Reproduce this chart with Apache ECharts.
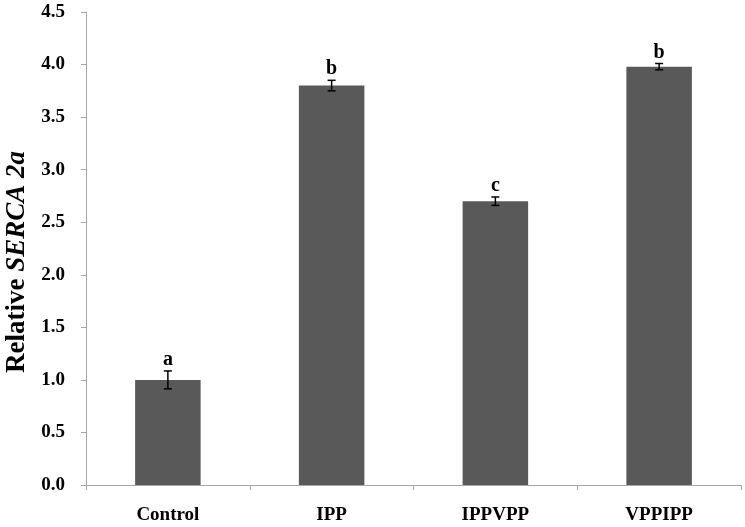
<!DOCTYPE html>
<html><head><meta charset="utf-8">
<script src="https://cdn.jsdelivr.net/npm/echarts@6/dist/echarts.min.js"></script>
<style>html,body{margin:0;padding:0;background:#fff}#c{width:745px;height:527px}</style>
</head><body><div id="c"></div>
<script>
var categories = ['Control', 'IPP', 'IPPVPP', 'VPPIPP'];
var values = [1.0, 3.8, 2.7, 3.98];
var errors = [0.085, 0.05, 0.04, 0.03];
var letters = ['a', 'b', 'c', 'b'];
var yTicks = [0, 0.5, 1.0, 1.5, 2.0, 2.5, 3.0, 3.5, 4.0, 4.5];

var chart = echarts.init(document.getElementById('c'), null, {renderer: 'canvas'});
var FONT = '"Liberation Serif", "Times New Roman", serif';
var errData = categories.map(function (c, i) { return [i, values[i], errors[i], letters[i]]; });

chart.setOption({
  animation: false,
  backgroundColor: '#ffffff',
  grid: {left: 86, right: 4, top: 12, bottom: 42, containLabel: false, outerBoundsMode: 'none'},
  xAxis: {
    type: 'category',
    data: categories,
    axisLine: {lineStyle: {color: '#a6a6a6', width: 1}},
    axisTick: {show: true, alignWithLabel: false, length: 5, lineStyle: {color: '#a6a6a6'}},
    axisLabel: {color: '#000', fontFamily: FONT, fontWeight: 'bold', fontSize: 19, margin: 21}
  },
  yAxis: {
    type: 'value',
    min: 0, max: 4.5, interval: 0.5,
    splitLine: {show: false},
    axisLine: {show: true, lineStyle: {color: '#a6a6a6', width: 1}},
    axisTick: {show: true, length: 5, lineStyle: {color: '#a6a6a6'}},
    axisLabel: {
      color: '#000', fontFamily: FONT, fontWeight: 'bold', fontSize: 19, margin: 21,
      formatter: function (v) { return v.toFixed(1); }
    },
    name: '{n|Relative }{i|SERCA 2a}',
    nameLocation: 'middle',
    nameGap: 54,
    nameRotate: 90,
    nameTextStyle: {
      padding: [0, 27, 0, 0],
      rich: {
        n: {fontFamily: FONT, fontWeight: 'bold', fontSize: 27, color: '#000'},
        i: {fontFamily: FONT, fontWeight: 'bold', fontStyle: 'italic', fontSize: 27, color: '#000'}
      }
    }
  },
  series: [
    {
      type: 'bar',
      data: values,
      barWidth: '40%',
      itemStyle: {color: '#595959'}
    },
    {
      type: 'custom',
      data: errData,
      z: 5,
      renderItem: function (params, api) {
        var x = api.value(0), v = api.value(1), e = api.value(2);
        var top = api.coord([x, v + e]);
        var bot = api.coord([x, v - e]);
        var cap = 4;
        var st = {stroke: '#000', lineWidth: 1.5};
        return {
          type: 'group',
          children: [
            {type: 'line', shape: {x1: top[0], y1: top[1], x2: bot[0], y2: bot[1]}, style: st},
            {type: 'line', shape: {x1: top[0] - cap, y1: top[1], x2: top[0] + cap, y2: top[1]}, style: st},
            {type: 'line', shape: {x1: bot[0] - cap, y1: bot[1], x2: bot[0] + cap, y2: bot[1]}, style: st},
            {type: 'text', style: {
              text: letters[params.dataIndex], x: top[0], y: top[1] - 1,
              align: 'center', verticalAlign: 'bottom',
              font: 'bold 20px ' + FONT, fill: '#000'
            }}
          ]
        };
      }
    }
  ]
});
</script></body></html>
